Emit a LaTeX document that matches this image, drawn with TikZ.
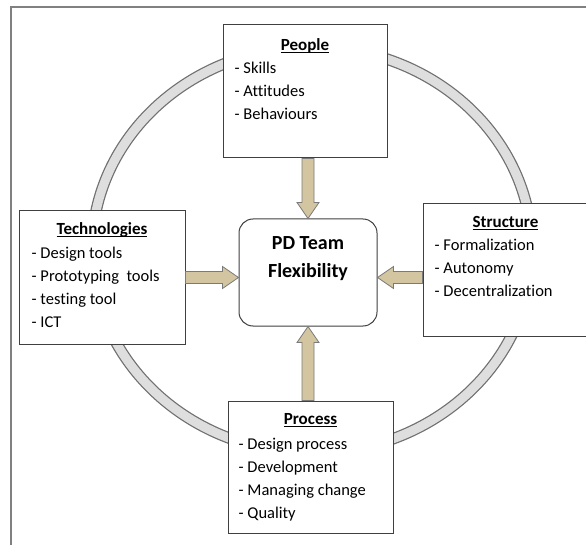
\documentclass[tikz,border=0pt]{standalone}
\usepackage{fontspec}
\setmainfont{Carlito}[Ligatures=NoCommon]
\usepackage{xcolor}
\usepackage{tikz}
\usetikzlibrary{positioning, calc}

\definecolor{framegray}{HTML}{808080}
\definecolor{ringedge}{HTML}{707070}
\definecolor{ringfill}{HTML}{DEDEDE}
\definecolor{boxline}{HTML}{404040}
\definecolor{arrowfill}{HTML}{D2C59F}
\definecolor{arrowline}{HTML}{7A7A7A}

% bold heading with a rule running just under the baseline
\newcommand{\headtitle}[1]{\setbox0\hbox{\bfseries #1}\rlap{\rule[-2.2pt]{\wd0}{0.9pt}}\box0}

\begin{document}
\begin{tikzpicture}[
    x=1pt, y=-1pt,
    font=\fontsize{16.5}{23}\selectfont,
    box/.style={rectangle, draw=boxline, fill=white, line width=1pt, minimum width=#1, minimum height=132pt, inner sep=0pt},
    hub/.style={rectangle, rounded corners=14pt, draw=boxline, fill=white, line width=1pt, minimum width=138pt, minimum height=107pt},
    title/.style={inner sep=0pt, font=\fontsize{17}{20}\selectfont},
    items/.style={inner sep=0pt, align=left},
    hublabel/.style={inner sep=0pt, align=center, font=\fontsize{20}{27.5}\selectfont\bfseries},
    blockarrow/.style={draw=arrowline, fill=arrowfill, line width=0.8pt, to path={
        let \p1=(\tikztostart), \p2=(\tikztotarget),
            \n1={atan2(\y2-\y1,\x2-\x1)}, \n2={veclen(\x2-\x1,\y2-\y1)}
        in [shift={(\p1)}, rotate=\n1]
        (0pt,-6pt) -- (\n2-16pt,-6pt) -- (\n2-16pt,-11pt) -- (\n2,0pt)
        -- (\n2-16pt,11pt) -- (\n2-16pt,6pt) -- (0pt,6pt) -- cycle}},
]
    \useasboundingbox[fill=white] (0,0) rectangle (586,545);

    % frame
    \draw[framegray, line width=2pt] (586,7.5) -| (11,545);

    % ring behind the boxes
    \coordinate (ring) at (312,250);
    \draw[ringedge, line width=11.5pt] (ring) ellipse [x radius=220pt, y radius=203pt];
    \draw[ringfill, line width=9pt] (ring) ellipse [x radius=220pt, y radius=203pt];

    % Boxes
    \node[box=164pt, minimum height=133pt] (people) at (305,91.5) {};
    \node[box=166pt, minimum height=133pt] (tech) at (102,277.5) {};
    \node[box=165pt] (struct) at (505.5,270) {};
    \node[box=165pt] (process) at (310.5,467) {};
    \node[hub] (flex) at (308,272.5) {};

    % Box texts
    \node[title, below=26pt of people.north, anchor=base] (people title) {\headtitle{People}};
    \node[items, below right=37pt and 12pt of people.north west] (people items) {- Skills\\- Attitudes\\- Behaviours};

    \node[title, below=24pt of tech.north, anchor=base] (tech title) {\headtitle{Technologies}};
    \node[items, below right=36.5pt and 13pt of tech.north west] (tech items) {- Design tools\\- Prototyping~ tools\\- testing tool\\- ICT};

    \node[title, below=24.5pt of struct.north, anchor=base] (struct title) {\headtitle{Structure}};
    \node[items, below right=35.5pt and 12pt of struct.north west] (struct items) {- Formalization\\- Autonomy\\- Decentralization};

    \node[title, below=24pt of process.north, anchor=base] (process title) {\headtitle{Process}};
    \node[items, below right=37pt and 11pt of process.north west] (process items) {- Design process\\- Development\\- Managing change\\- Quality};

    \node[hublabel, below=18pt of flex.north] (flex label) {PD Team\\Flexibility};

    % Arrows into the hub
    \draw[blockarrow] (flex.north |- people.south) to (flex.north);
    \draw[blockarrow] (flex.south |- process.north) to (flex.south);
    \draw[blockarrow] (tech.east) to (tech.east -| flex.west);
    \draw[blockarrow] (struct.west |- tech.east) to (flex.east |- tech.east);

\end{tikzpicture}
\end{document}
